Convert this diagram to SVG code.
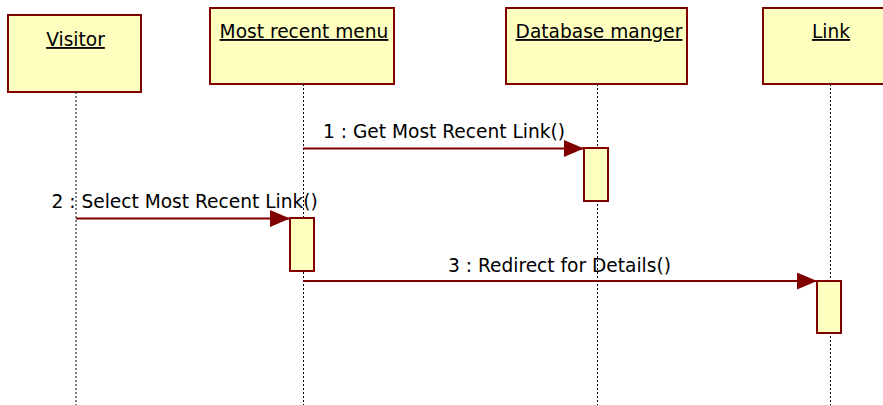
<svg xmlns="http://www.w3.org/2000/svg" width="883" height="405" viewBox="0 0 883 405">
<defs>
<style>
.box{fill:#FFFFC0;stroke:#800000;stroke-width:2}
.act{fill:#FFFFC0;stroke:#800000;stroke-width:2}
.life{stroke:#000;stroke-width:1;stroke-dasharray:2,2;fill:none}
.msg{stroke:#800000;stroke-width:2;fill:none;marker-end:url(#arr)}
.t{font-family:"DejaVu Sans",Verdana,sans-serif;font-size:18.6px;fill:#000}
.title{text-decoration:underline;text-anchor:middle}
</style>
<marker id="arr" markerUnits="userSpaceOnUse" markerWidth="22" markerHeight="18" refX="20" refY="8.5" orient="auto">
<path d="M0,0 L20,8.5 L0,17 Z" fill="#800000"/>
</marker>
</defs>
<rect width="883" height="405" fill="#fff"/>
<g id="visitor">
<rect class="box" x="8" y="15" width="133" height="77"/>
<text class="t title" x="75.5" y="46">Visitor</text>
<line class="life" x1="76" y1="92" x2="76" y2="405"/>
</g>
<g id="menu">
<rect class="box" x="210" y="8" width="184" height="76"/>
<text class="t title" x="304" y="38">Most recent menu</text>
<line class="life" x1="303.5" y1="84" x2="303.5" y2="405"/>
<rect class="act" x="290" y="218" width="24" height="53"/>
</g>
<g id="dbmanager">
<rect class="box" x="506" y="8" width="181" height="76"/>
<text class="t title" x="599" y="38">Database manger</text>
<line class="life" x1="597.5" y1="84" x2="597.5" y2="405"/>
<rect class="act" x="584" y="148" width="24" height="53"/>
</g>
<g id="link">
<rect class="box" x="763" y="8" width="136" height="76"/>
<text class="t title" x="831" y="38">Link</text>
<line class="life" x1="830.5" y1="84" x2="830.5" y2="405"/>
<rect class="act" x="817" y="281" width="24" height="52"/>
</g>
<g id="connectors">
<line class="msg" x1="303" y1="148.5" x2="584" y2="148.5"/>
<text class="t" x="323" y="138">1 : Get Most Recent Link()</text>
<line class="msg" x1="76" y1="218.5" x2="290" y2="218.5"/>
<text class="t" x="51.5" y="208">2 : Select Most Recent Link()</text>
<line class="msg" x1="303" y1="281" x2="817" y2="281"/>
<text class="t" x="448" y="272">3 : Redirect for Details()</text>
</g>
</svg>
